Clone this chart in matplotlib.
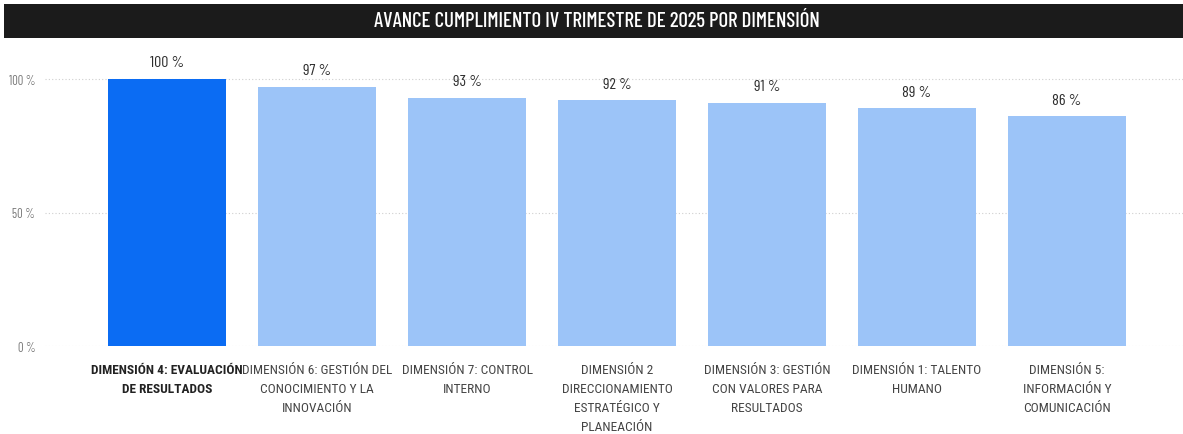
import matplotlib
matplotlib.use("Agg")
import matplotlib.pyplot as plt
from matplotlib.patches import Rectangle
from matplotlib.ticker import FuncFormatter

categories = [
    "DIMENSIÓN 4: EVALUACIÓN\nDE RESULTADOS",
    "DIMENSIÓN 6: GESTIÓN DEL\nCONOCIMIENTO Y LA\nINNOVACIÓN",
    "DIMENSIÓN 7: CONTROL\nINTERNO",
    "DIMENSIÓN 2\nDIRECCIONAMIENTO\nESTRATÉGICO Y\nPLANEACIÓN",
    "DIMENSIÓN 3: GESTIÓN\nCON VALORES PARA\nRESULTADOS",
    "DIMENSIÓN 1: TALENTO\nHUMANO",
    "DIMENSIÓN 5:\nINFORMACIÓN Y\nCOMUNICACIÓN",
]
values = [100, 97, 93, 92, 91, 89, 86]
yticks = [0, 50, 100]
title = "AVANCE CUMPLIMIENTO IV TRIMESTRE DE 2025 POR DIMENSIÓN"

W, H = 1183, 435
fig = plt.figure(figsize=(W / 100, H / 100), dpi=100)
fig.patch.set_facecolor("white")

din = ["Barlow Condensed", "DejaVu Sans"]
lab_font = ["Roboto Condensed", "DejaVu Sans"]

# title bar
fig.patches.append(Rectangle((4 / W, 1 - 39 / H), 1 - 4 / W, 34 / H,
                             transform=fig.transFigure, facecolor="#1b1b1b",
                             edgecolor="none", zorder=0))
fig.text(597 / W, 1 - 21.5 / H, title, color="white", ha="center", va="center",
         fontsize=15, family=din, fontweight=500)

# axes: 0% at y=347px, 100% at y=80px
y0, y100 = 347, 80
ax_top_val = 110
px_per = (y0 - y100) / 100
top_px = y0 - ax_top_val * px_per
left_px, right_px = 45, 1183
ax = fig.add_axes([left_px / W, (H - y0) / H, (right_px - left_px) / W,
                   (y0 - top_px) / H])
ax.set_facecolor("none")

x = list(range(len(categories)))
colors = ["#0B6CF3"] + ["#9CC4F8"] * (len(categories) - 1)
ax.bar(x, values, width=0.79, color=colors, zorder=2)

spacing = 150
c0 = 167
ax.set_xlim((left_px - c0) / spacing, (right_px - c0) / spacing)
ax.set_ylim(0, ax_top_val)

for xi, v in zip(x, values):
    ax.text(xi, v + 3.6, f"{v} %", ha="center", va="bottom", fontsize=11.5,
            color="#2e2e2e", family=din)

ax.set_yticks(yticks)
ax.yaxis.set_major_formatter(FuncFormatter(lambda v, p: f"{int(v)} %"))
ax.tick_params(axis="y", length=0, labelsize=9, labelcolor="#777777", pad=7)
for lab in ax.get_yticklabels():
    lab.set_family(din)
ax.grid(axis="y", color="#cfcfcf", linestyle=(0, (1, 2)), linewidth=0.8, zorder=0)

ax.set_xticks(x)
ax.set_xticklabels(categories, fontsize=9.6, color="#444444", linespacing=1.62)
ax.tick_params(axis="x", length=0, pad=12)
for i, lab in enumerate(ax.get_xticklabels()):
    lab.set_family(lab_font)
    if i == 0:
        lab.set_fontweight("bold")
        lab.set_color("#222222")

for s in ax.spines.values():
    s.set_visible(False)

fig.savefig("out.png", dpi=100)
